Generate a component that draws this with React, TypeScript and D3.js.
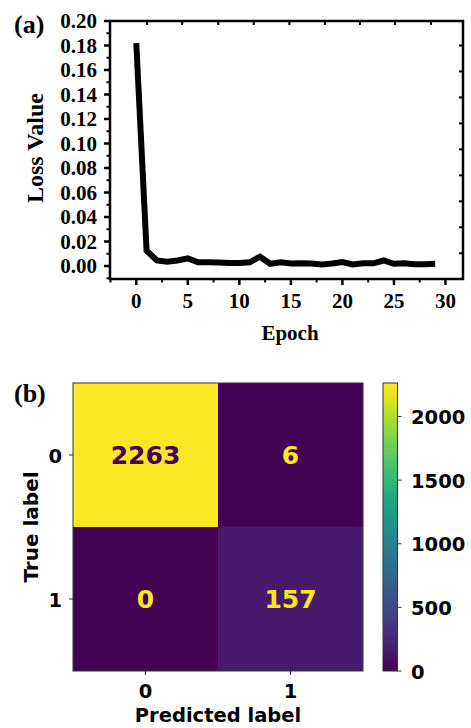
import React from "react";
import * as d3 from "d3";

const epochs = d3.range(0, 30);
const lossValues = [0.182, 0.0125, 0.0045, 0.0035, 0.0045, 0.0062, 0.003, 0.003, 0.0028, 0.0025, 0.0025, 0.003, 0.0076, 0.0018, 0.003, 0.002, 0.0022, 0.002, 0.0012, 0.002, 0.0032, 0.0012, 0.0022, 0.0022, 0.0045, 0.0018, 0.0022, 0.0015, 0.0015, 0.0018];
const xTicks = [0, 5, 10, 15, 20, 25, 30];
const yTicks = [0, 0.02, 0.04, 0.06, 0.08, 0.1, 0.12, 0.14, 0.16, 0.18, 0.2];
const topTicks = [1.05, 4.45, 7.95, 11.4, 14.85, 18.3, 21.7, 25.1, 28.6];
const rightTicks = [0.0104, 0.0316, 0.0528, 0.074, 0.0952, 0.1164, 0.1376, 0.1588, 0.18];

const trueLabels = ["0", "1"];
const predLabels = ["0", "1"];
const matrix = [
  [2263, 6],
  [0, 157],
];
const cbTicks = [0, 500, 1000, 1500, 2000];

const serif = "'Liberation Serif', 'Times New Roman', serif";
const sans = "'DejaVu Sans', sans-serif";

export default function App() {
  // top chart
  const x = d3.scaleLinear().domain([-2.55, 31.7]).range([110, 463]);
  const y = d3.scaleLinear().domain([0, 0.2]).range([266, 21]);
  const yBottom = 279;
  const line = d3
    .line<number>()
    .x((_, i) => x(epochs[i]))
    .y((d) => y(d));
  const xMinor = d3.range(-2.5, 31.7, 2.5).filter((v) => v % 5 !== 0);
  const yMinor = d3.range(-0.01, 0.2, 0.02);

  // bottom chart
  const mx = d3.scaleBand().domain(predLabels).range([73, 363]);
  const my = d3.scaleBand().domain(trueLabels).range([383, 671]);
  const vmax = d3.max(matrix.flat()) as number;
  const color = (v: number) => d3.interpolateViridis(v / vmax);
  const cy = d3.scaleLinear().domain([0, vmax]).range([671, 383]);
  const cbX = 383;
  const cbW = 14.5;
  const stops = d3.range(0, 1.0001, 0.05);

  return (
    <svg width={471} height={728} style={{ position: "absolute", left: 0, top: 0 }}>
      <rect width={471} height={728} fill="#fff" />
      {/* (a) */}
      <text x={14} y={33} fontFamily={serif} fontWeight="bold" fontSize={26}>(a)</text>
      <path d={line(lossValues) || ""} fill="none" stroke="#000" strokeWidth={6} strokeLinejoin="miter" />
      <rect x={110} y={21} width={353} height={yBottom - 21} fill="none" stroke="#000" strokeWidth={2.5} />
      {xTicks.map((t) => (
        <g key={"xt" + t}>
          <line x1={x(t)} x2={x(t)} y1={yBottom} y2={yBottom + 6} stroke="#000" strokeWidth={2.5} />
          <text x={x(t)} y={308} textAnchor="middle" fontFamily={serif} fontWeight="bold" fontSize={21}>{t}</text>
        </g>
      ))}
      {xMinor.map((t) => (
        <line key={"xm" + t} x1={x(t)} x2={x(t)} y1={yBottom} y2={yBottom + 3.5} stroke="#000" strokeWidth={2} />
      ))}
      {topTicks.map((t) => (
        <line key={"tt" + t} x1={x(t)} x2={x(t)} y1={21} y2={25} stroke="#000" strokeWidth={2} />
      ))}
      {yTicks.map((t) => (
        <g key={"yt" + t}>
          <line x1={110} x2={104} y1={y(t)} y2={y(t)} stroke="#000" strokeWidth={2.5} />
          <text x={97} y={y(t) + 7} textAnchor="end" fontFamily={serif} fontWeight="bold" fontSize={21}>{t.toFixed(2)}</text>
        </g>
      ))}
      {yMinor.map((t) => (
        <line key={"ym" + t} x1={110} x2={106.5} y1={y(t)} y2={y(t)} stroke="#000" strokeWidth={2} />
      ))}
      {rightTicks.map((t) => (
        <line key={"rt" + t} x1={463} x2={459} y1={y(t)} y2={y(t)} stroke="#000" strokeWidth={2} />
      ))}
      <text x={290} y={340} textAnchor="middle" fontFamily={serif} fontWeight="bold" fontSize={21}>Epoch</text>
      <text transform={`translate(43,${148}) rotate(-90)`} textAnchor="middle" fontFamily={serif} fontWeight="bold" fontSize={24}>Loss Value</text>

      {/* (b) */}
      <text x={14} y={402} fontFamily={serif} fontWeight="bold" fontSize={26}>(b)</text>
      {matrix.map((row, i) =>
        row.map((v, j) => (
          <g key={`c${i}${j}`}>
            <rect x={mx(predLabels[j])} y={my(trueLabels[i])} width={mx.bandwidth()} height={my.bandwidth()} fill={color(v)} />
            <text
              x={(mx(predLabels[j]) as number) + mx.bandwidth() / 2}
              y={(my(trueLabels[i]) as number) + my.bandwidth() / 2 + 9}
              textAnchor="middle"
              fontFamily={sans}
              fontWeight="bold"
              fontSize={25}
              fill={v / vmax > 0.5 ? "#440154" : "#fde725"}
            >
              {v}
            </text>
          </g>
        ))
      )}
      <rect x={73} y={383} width={290} height={288} fill="none" stroke="#333" strokeWidth={1} />
      {trueLabels.map((l) => (
        <g key={"ty" + l}>
          <line x1={73} x2={69} y1={(my(l) as number) + my.bandwidth() / 2} y2={(my(l) as number) + my.bandwidth() / 2} stroke="#333" strokeWidth={1} />
          <text x={62} y={(my(l) as number) + my.bandwidth() / 2 + 8} textAnchor="end" fontFamily={sans} fontWeight="bold" fontSize={19.5}>{l}</text>
        </g>
      ))}
      {predLabels.map((l) => (
        <g key={"px" + l}>
          <line x1={(mx(l) as number) + mx.bandwidth() / 2} x2={(mx(l) as number) + mx.bandwidth() / 2} y1={671} y2={675} stroke="#333" strokeWidth={1} />
          <text x={(mx(l) as number) + mx.bandwidth() / 2} y={698} textAnchor="middle" fontFamily={sans} fontWeight="bold" fontSize={19.5}>{l}</text>
        </g>
      ))}
      <text x={218} y={722} textAnchor="middle" fontFamily={sans} fontWeight="bold" fontSize={19.5}>Predicted label</text>
      <text transform={`translate(38,${527}) rotate(-90)`} textAnchor="middle" fontFamily={sans} fontWeight="bold" fontSize={20}>True label</text>

      {/* colorbar */}
      <defs>
        <linearGradient id="vir" x1="0" y1="1" x2="0" y2="0">
          {stops.map((s) => (
            <stop key={s} offset={s} stopColor={d3.interpolateViridis(s)} />
          ))}
        </linearGradient>
      </defs>
      <rect x={cbX} y={383} width={cbW} height={288} fill="url(#vir)" stroke="#333" strokeWidth={1} />
      {cbTicks.map((t) => (
        <g key={"cb" + t}>
          <line x1={cbX + cbW} x2={cbX + cbW + 4} y1={cy(t)} y2={cy(t)} stroke="#333" strokeWidth={1} />
          <text x={411} y={cy(t) + 7.5} fontFamily={sans} fontWeight="bold" fontSize={19.5}>{t}</text>
        </g>
      ))}
    </svg>
  );
}
